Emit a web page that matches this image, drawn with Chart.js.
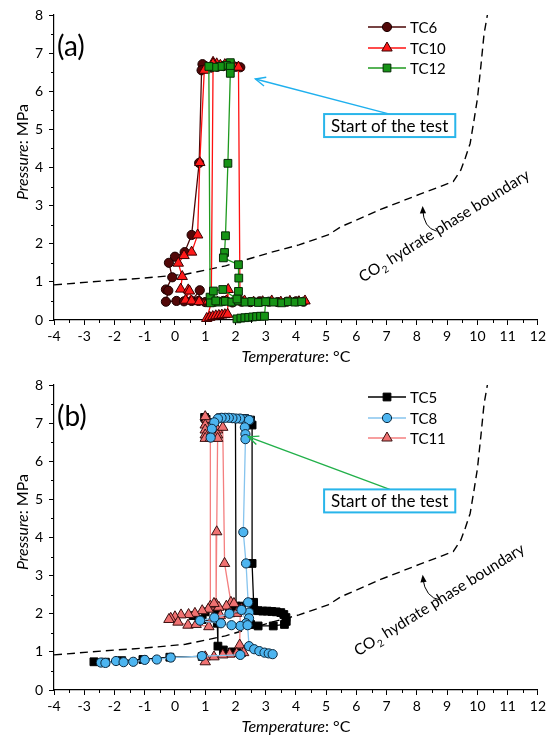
<!DOCTYPE html>
<html>
<head>
<meta charset="utf-8">
<script src="https://cdn.jsdelivr.net/npm/chart.js@4.4.1/dist/chart.umd.min.js"></script>
<style>
  html, body { margin: 0; padding: 0; background: #fff; }
  .panel { position: absolute; left: 0; width: 549px; height: 365px; }
  #wrapA { top: 0; }
  #wrapB { top: 370px; }
</style>
</head>
<body>
<div class="panel" id="wrapA"><canvas id="chartA" width="549" height="365"></canvas></div>
<div class="panel" id="wrapB"><canvas id="chartB" width="549" height="365"></canvas></div>
<script>
// axis ranges
const tempRange = [-4, 12];
const presRange = [0, 8];

// CO2 hydrate phase boundary (dashed)
const boundaryTemp = [-4, -2.3, -1, 0.35, 1.67, 3.2, 4.1, 5.06, 5.5, 6.8, 8.1, 9.2, 9.45, 9.6, 9.76, 9.88, 10.0, 10.12, 10.22, 10.33];
const boundaryPres = [0.92, 1.03, 1.1, 1.2, 1.42, 1.78, 1.97, 2.23, 2.45, 2.9, 3.3, 3.63, 3.93, 4.25, 4.63, 5.2, 5.8, 6.7, 7.5, 8.0];

// panel (a); null splits a record into separate runs
const tc6Temp = [2.16, 2.0, 1.8, 1.6, 1.4, 1.2, 1.0, 0.91, 0.88, 0.8, 0.55, 0.32, 0.0, -0.2, -0.09, -0.3, -0.22, -0.3, 0.05, 0.3, 0.55, 0.82, 0.78, 1.0, 1.3, 1.6, 1.9, 2.2, 2.5, 2.8, 3.1, 3.4, 3.7, 4.0, 4.25];
const tc6Pres = [6.63, 6.64, 6.66, 6.66, 6.64, 6.62, 6.66, 6.71, 6.55, 4.12, 2.23, 1.78, 1.66, 1.5, 1.12, 0.8, 0.77, 0.48, 0.5, 0.49, 0.5, 0.78, 0.5, 0.47, 0.48, 0.5, 0.46, 0.48, 0.47, 0.49, 0.48, 0.47, 0.48, 0.49, 0.48];

const tc10Temp = [2.1, 1.95, 1.8, 1.65, 1.5, 1.38, 1.26, 1.1, 0.97, 0.82, 0.75, 0.55, 0.3, 0.11, 0.24, 0.19, 0.44, 0.35, 0.48, 0.55, 0.8, 1.1, 1.4, 1.7, 2.0, 2.3, 2.6, 2.9, 3.2, 3.5, 3.8, 4.1, 4.3,
  null, 1.26, 1.2, 1.05, 1.15, 1.25, 1.35, 1.45, 1.55, 1.65, 1.74, 1.76, 1.7,
  null, 2.1, 2.15];
const tc10Pres = [6.63, 6.66, 6.68, 6.7, 6.68, 6.72, 6.76, 6.6, 6.55, 4.13, 2.23, 1.78, 1.69, 1.49, 1.14, 0.81, 0.79, 0.52, 0.76, 0.5, 0.48, 0.5, 0.47, 0.49, 0.48, 0.5, 0.47, 0.48, 0.5, 0.47, 0.49, 0.48, 0.5,
  null, 6.72, 0.45, 0.04, 0.07, 0.09, 0.11, 0.12, 0.13, 0.14, 0.15, 0.8, 0.5,
  null, 6.63, 0.55];

const tc12Temp = [1.83, 1.7, 1.5, 1.3, 1.12, 1.16, 1.17, 1.45, 1.67, 1.88, 2.1, 2.32, 2.54, 2.76, 3.04, 3.26, 3.53, 3.75, 3.97, 4.19,
  null, 1.83, 1.83, 1.75, 1.67, 1.64, 1.6, 2.1, 2.11, 2.1, 2.05, 1.58, 1.27, 1.35,
  null, 2.05, 2.18, 2.31, 2.44, 2.57, 2.7, 2.83, 2.96, 3.0];
const tc12Pres = [6.75, 6.68, 6.65, 6.63, 6.65, 0.6, 0.45, 0.47, 0.49, 0.47, 0.5, 0.47, 0.48, 0.46, 0.48, 0.47, 0.45, 0.48, 0.47, 0.48,
  null, 6.64, 6.47, 4.11, 2.21, 1.77, 1.63, 1.45, 1.1, 0.75, 0.55, 0.8, 0.76, 0.5,
  null, 0.03, 0.05, 0.06, 0.07, 0.08, 0.09, 0.1, 0.1, 0.48];

// panel (b)
const tc5Temp = [0.98, 1.03, 1.5, 2.0, 2.02,
  null, 2.3, 2.5, 2.55, 2.55, 2.6, 2.62, 2.75, 2.9, 3.05, 3.2, 3.35, 3.5, 3.6, 3.67, 3.68, 3.62, 3.25, 2.75, 2.5,
  null, 2.6, 2.2, 1.8, 1.4, 1.0, 0.6, 0.9, 1.4, 1.42, 1.6, 1.9, 2.2,
  null, -2.68, -2.3, -1.76, -1.06, -0.17, 0.9];
const tc5Pres = [7.15, 7.1, 7.14, 7.12, 2.2,
  null, 7.12, 7.08, 6.95, 3.32, 2.3, 2.1, 2.08, 2.07, 2.07, 2.06, 2.05, 2.03, 1.98, 1.9, 1.8, 1.72, 1.68, 1.68, 1.72,
  null, 2.25, 2.2, 2.15, 2.1, 2.05, 1.95, 1.85, 1.75, 1.15, 1.05, 1.0, 0.98,
  null, 0.74, 0.73, 0.77, 0.8, 0.86, 0.88];

const tc8Temp = [2.47, 2.38, 2.27, 2.15, 2.02, 1.9, 1.78, 1.66, 1.54, 1.42, 1.3, 1.22, 1.18,
  null, 2.45, 2.31, 2.33, 2.33, 2.26, 2.35, 2.42, 2.45, 2.45, 2.35, 2.16, 1.87, 1.52, 0.83, 1.3, 1.8, 2.2, 2.4, 2.45, 2.62, 2.79, 2.96, 3.1, 3.23,
  null, -2.45, -2.3, -1.95, -1.7, -1.38, -1.0, -0.6, -0.14, 0.89, 2.16];
const tc8Pres = [7.08, 7.1, 7.1, 7.12, 7.12, 7.13, 7.14, 7.14, 7.14, 7.12, 7.02, 6.85, 6.62,
  null, 7.08, 6.89, 6.71, 6.58, 4.14, 3.32, 2.3, 2.03, 1.88, 1.75, 1.68, 1.7, 1.75, 1.82, 1.9, 2.0, 2.1, 1.7, 1.15, 1.07, 1.02, 0.98, 0.96, 0.94,
  null, 0.72, 0.71, 0.76, 0.73, 0.74, 0.79, 0.8, 0.85, 0.89, 0.92];

const tc11Temp = [1.05, 1.0, 1.0, 1.0, 1.0, 1.0, 1.17, 1.17,
  null, 1.41, 1.41, 1.41, 1.38, 1.36,
  null, 1.58, 1.64, 1.85,
  null, 2.2, 1.95, 1.7, 1.45, 1.29, 1.1, 0.9, 0.66, 0.45, 0.2, 0.0, -0.14, -0.2, 0.1, 0.43, 0.7, 1.12, 1.24, 1.5, 1.8, 2.04, 2.16, 2.14, 2.27, 2.04, 1.81, 1.58, 1.29, 1.0, 1.0];
const tc11Pres = [7.1, 7.17, 6.95, 6.82, 6.69, 6.6, 6.6, 2.2,
  null, 6.82, 6.69, 6.6, 4.15, 2.25,
  null, 6.89, 3.32, 2.3,
  null, 2.12, 2.27, 2.2, 2.17, 2.27, 2.12, 2.08, 2.01, 1.98, 1.97, 1.92, 1.88, 1.85, 1.78, 1.7, 1.72, 1.66, 1.88, 1.95, 2.0, 2.01, 2.1, 1.18, 0.98, 0.96, 0.94, 0.92, 0.87, 0.87, 0.74];

const uiFont = 'Lato, "Open Sans", sans-serif';

function toPoints(ts, ps) {
  return ts.map((t, i) => ({ x: t, y: ps[i] }));
}

function series(label, ts, ps, look) {
  return {
    label,
    data: toPoints(ts, ps),
    showLine: true,
    spanGaps: false,
    clip: false,
    borderColor: look.line,
    borderWidth: 1.3,
    backgroundColor: look.fill,
    pointBackgroundColor: look.fill,
    pointBorderColor: look.edge,
    pointBorderWidth: 1,
    pointStyle: look.shape,
    pointRadius: look.r,
    pointHoverRadius: look.r,
    order: look.order,
    marker: look
  };
}

function boundarySet() {
  return {
    label: '',
    data: toPoints(boundaryTemp, boundaryPres),
    showLine: true,
    clip: false,
    borderColor: '#000',
    borderWidth: 1.4,
    borderDash: [8, 5],
    pointRadius: 0,
    order: 20
  };
}

function drawMarker(ctx, m, x, y) {
  ctx.beginPath();
  if (m.shape === 'circle') {
    ctx.arc(x, y, m.r, 0, Math.PI * 2);
  } else if (m.shape === 'rect') {
    const s = m.r * Math.SQRT1_2;
    ctx.rect(x - s, y - s, 2 * s, 2 * s);
  } else {
    for (let k = 0; k < 3; k++) {
      const a = k * 2 * Math.PI / 3;
      const px = x + Math.sin(a) * m.r, py = y - Math.cos(a) * m.r;
      if (k === 0) ctx.moveTo(px, py); else ctx.lineTo(px, py);
    }
    ctx.closePath();
  }
  ctx.fillStyle = m.fill;
  ctx.fill();
  ctx.lineWidth = 1;
  ctx.strokeStyle = m.edge;
  ctx.stroke();
}

// text made of an italic part followed by an upright part
function mixedText(ctx, italic, plain, cx, cy, size) {
  ctx.font = 'italic ' + size + 'px ' + uiFont;
  const w1 = ctx.measureText(italic).width;
  ctx.font = size + 'px ' + uiFont;
  const w2 = ctx.measureText(plain).width;
  let x = cx - (w1 + w2) / 2;
  ctx.textAlign = 'left';
  ctx.textBaseline = 'middle';
  ctx.font = 'italic ' + size + 'px ' + uiFont;
  ctx.fillText(italic, x, cy);
  ctx.font = size + 'px ' + uiFont;
  ctx.fillText(plain, x + w1, cy);
}

function arrowHead(ctx, x, y, angle, len, spread, filled) {
  ctx.beginPath();
  ctx.moveTo(x - len * Math.cos(angle - spread), y - len * Math.sin(angle - spread));
  ctx.lineTo(x, y);
  ctx.lineTo(x - len * Math.cos(angle + spread), y - len * Math.sin(angle + spread));
  if (filled) { ctx.closePath(); ctx.fill(); } else { ctx.stroke(); }
}

const decor = {
  id: 'decor',
  afterDraw(chart, args, o) {
    const ctx = chart.ctx;
    const xs = chart.scales.x, ys = chart.scales.y;
    const area = chart.chartArea;
    const X = v => xs.getPixelForValue(v), Y = v => ys.getPixelForValue(v);
    ctx.save();

    // minor ticks at half units
    ctx.strokeStyle = '#000';
    ctx.lineWidth = 1;
    ctx.beginPath();
    for (let v = tempRange[0] + 0.5; v < tempRange[1]; v += 1) {
      const px = Math.round(X(v)) + 0.5;
      ctx.moveTo(px, area.bottom);
      ctx.lineTo(px, area.bottom + 3);
    }
    for (let v = presRange[0] + 0.5; v < presRange[1]; v += 1) {
      const py = Math.round(Y(v)) + 0.5;
      ctx.moveTo(area.left, py);
      ctx.lineTo(area.left - 3, py);
    }
    ctx.stroke();

    // axis titles
    ctx.fillStyle = '#000';
    mixedText(ctx, 'Temperature', ': °C', (area.left + area.right) / 2, area.bottom + 37, 16);
    ctx.save();
    ctx.translate(area.left - 31, area.top + 137);
    ctx.rotate(-Math.PI / 2);
    mixedText(ctx, 'Pressure', ': MPa', 0, 0, 16);
    ctx.restore();

    // panel tag
    ctx.font = '28px ' + uiFont;
    ctx.textAlign = 'left';
    ctx.textBaseline = 'middle';
    ctx.fillText(o.tag, area.left + 3, area.top + 32);

    // legend: line + marker + name
    const rows = [27, 48, 68];
    chart.data.datasets.filter(d => d.marker).forEach((d, i) => {
      const y = rows[i];
      ctx.strokeStyle = d.borderColor;
      ctx.lineWidth = 1.5;
      ctx.beginPath();
      ctx.moveTo(368, y);
      ctx.lineTo(406, y);
      ctx.stroke();
      drawMarker(ctx, d.marker, 387, y);
      ctx.fillStyle = '#000';
      ctx.font = '15px ' + uiFont;
      ctx.textAlign = 'left';
      ctx.textBaseline = 'middle';
      ctx.fillText(d.label, 410, y + 1);
    });

    // "Start of the test" callout
    const bx = X(o.note.t), by = Y(o.note.p);
    ctx.font = '17px ' + uiFont;
    const tw = ctx.measureText(o.note.text).width;
    const bw = tw + 14, bh = 23;
    ctx.strokeStyle = o.note.arrow;
    ctx.lineWidth = 1.4;
    const hx = X(o.note.headT), hy = Y(o.note.headP);
    ctx.beginPath();
    ctx.moveTo(bx, by - bh / 2);
    ctx.lineTo(hx, hy);
    ctx.stroke();
    arrowHead(ctx, hx, hy, Math.atan2(hy - (by - bh / 2), hx - bx), 11, 0.42, false);
    ctx.fillStyle = '#fff';
    ctx.fillRect(bx - bw / 2, by - bh / 2, bw, bh);
    ctx.strokeStyle = '#29b5ea';
    ctx.lineWidth = 2;
    ctx.strokeRect(bx - bw / 2, by - bh / 2, bw, bh);
    ctx.fillStyle = '#000';
    ctx.textAlign = 'center';
    ctx.textBaseline = 'middle';
    ctx.fillText(o.note.text, bx, by + 1);

    // phase boundary label, rotated, with subscript
    const lb = o.phase;
    ctx.save();
    ctx.translate(X(lb.t), Y(lb.p));
    ctx.rotate(-32 * Math.PI / 180);
    ctx.fillStyle = '#000';
    ctx.textAlign = 'left';
    ctx.textBaseline = 'alphabetic';
    ctx.font = '15.5px ' + uiFont;
    ctx.fillText('CO', 0, 0);
    let cx = ctx.measureText('CO').width;
    ctx.font = '10px ' + uiFont;
    ctx.fillText('2', cx + 0.5, 4);
    cx += ctx.measureText('2').width + 1;
    ctx.font = '15.5px ' + uiFont;
    ctx.fillText(' hydrate phase boundary', cx, 0);
    ctx.restore();

    // curved pointer towards the boundary
    const tx = X(lb.tail[0]), ty = Y(lb.tail[1]);
    const qx = X(lb.ctrl[0]), qy = Y(lb.ctrl[1]);
    const ex = X(lb.head[0]), ey = Y(lb.head[1]);
    ctx.strokeStyle = '#000';
    ctx.fillStyle = '#000';
    ctx.lineWidth = 1;
    ctx.beginPath();
    ctx.moveTo(tx, ty);
    ctx.quadraticCurveTo(qx, qy, ex, ey + 3);
    ctx.stroke();
    arrowHead(ctx, ex, ey, Math.atan2(ey - qy, ex - qx), 8, 0.4, true);

    ctx.restore();
  }
};

function makeChart(id, sets, o) {
  return new Chart(document.getElementById(id), {
    type: 'scatter',
    data: { datasets: sets },
    options: {
      responsive: false,
      animation: false,
      events: [],
      layout: { padding: { left: 0, right: 8, top: 15, bottom: 0 } },
      plugins: { legend: { display: false }, tooltip: { enabled: false }, decor: o },
      scales: {
        x: {
          type: 'linear',
          min: tempRange[0],
          max: tempRange[1],
          afterFit: s => { s.height = 45; },
          ticks: { stepSize: 1, autoSkip: false, maxRotation: 0, padding: 3, color: '#000', font: { family: uiFont, size: 14 } },
          grid: { drawOnChartArea: false, drawTicks: true, tickLength: 5, color: '#000' },
          border: { color: '#000', width: 1.2 }
        },
        y: {
          type: 'linear',
          min: presRange[0],
          max: presRange[1],
          afterFit: s => { s.width = 54; },
          ticks: { stepSize: 1, padding: 6, color: '#000', font: { family: uiFont, size: 14 } },
          grid: { drawOnChartArea: false, drawTicks: true, tickLength: 5, color: '#000' },
          border: { color: '#000', width: 1.2 }
        }
      }
    },
    plugins: [decor]
  });
}

const lookTC6 = { shape: 'circle', r: 4.6, line: '#4a0606', fill: '#520808', edge: '#1a0000', order: 3 };
const lookTC10 = { shape: 'triangle', r: 6, line: '#ff1010', fill: '#ff1a1a', edge: '#3a0000', order: 2 };
const lookTC12 = { shape: 'rect', r: 5.5, line: '#1f9a1f', fill: '#169416', edge: '#062a06', order: 1 };
const lookTC5 = { shape: 'rect', r: 5.5, line: '#000', fill: '#000', edge: '#000', order: 3 };
const lookTC8 = { shape: 'circle', r: 4.6, line: '#86c4ee', fill: '#4db5f0', edge: '#0d2a40', order: 1 };
const lookTC11 = { shape: 'triangle', r: 6, line: '#f47f7f', fill: '#f07272', edge: '#3a1010', order: 2 };

makeChart('chartA', [
  series('TC6', tc6Temp, tc6Pres, lookTC6),
  series('TC10', tc10Temp, tc10Pres, lookTC10),
  series('TC12', tc12Temp, tc12Pres, lookTC12),
  boundarySet()
], {
  tag: '(a)',
  note: { text: 'Start of the test', t: 7.1, p: 5.1, headT: 2.66, headP: 6.32, arrow: '#1fb0ee' },
  phase: { t: 6.22, p: 0.98, tail: [8.65, 2.33], ctrl: [8.22, 2.41], head: [8.19, 2.99] }
});

makeChart('chartB', [
  series('TC5', tc5Temp, tc5Pres, lookTC5),
  series('TC8', tc8Temp, tc8Pres, lookTC8),
  series('TC11', tc11Temp, tc11Pres, lookTC11),
  boundarySet()
], {
  tag: '(b)',
  note: { text: 'Start of the test', t: 7.1, p: 4.96, headT: 2.43, headP: 6.64, arrow: '#22b04a' },
  phase: { t: 6.06, p: 0.88, tail: [8.78, 2.36], ctrl: [8.28, 2.41], head: [8.19, 3.02] }
});
</script>
</body>
</html>
